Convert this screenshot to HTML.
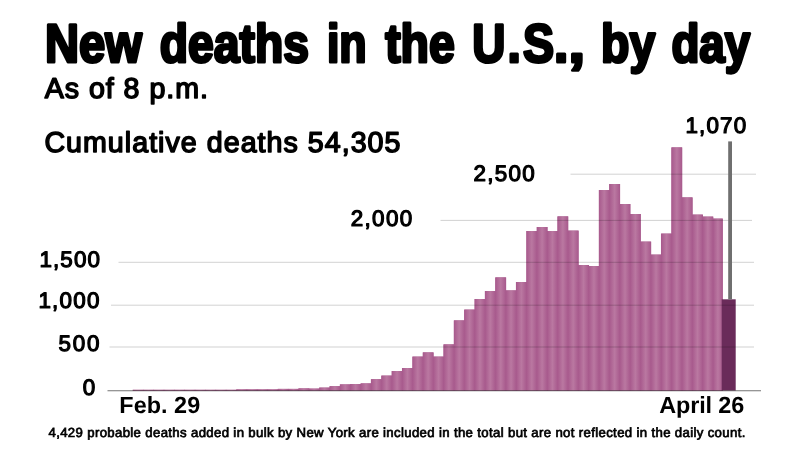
<!DOCTYPE html>
<html><head><meta charset="utf-8"><title>New deaths in the U.S., by day</title>
<style>
html,body{margin:0;padding:0;background:#fff;}
body{width:800px;height:450px;overflow:hidden;}
svg{display:block;}
text{font-family:"Liberation Sans",sans-serif;fill:#000;text-rendering:geometricPrecision;}
.t{font-weight:bold;font-size:54px;stroke:#000;stroke-width:3px;stroke-linejoin:round;}
.m{stroke:#000;stroke-width:1.5px;stroke-linejoin:round;}
.a{stroke:#000;stroke-width:1.2px;stroke-linejoin:round;}
.b{font-weight:bold;}
.f{stroke:#000;stroke-width:0.7px;}
</style></head><body>
<svg width="800" height="450" viewBox="0 0 800 450">
<defs><linearGradient id="g" x1="0" y1="0" x2="1" y2="0">
<stop offset="0" stop-color="#a85a8d"/><stop offset="0.5" stop-color="#ba78a1"/><stop offset="1" stop-color="#a85a8d"/>
</linearGradient></defs>
<rect width="800" height="450" fill="#fff"/>
<g>
<g fill="#a85a8d"><rect x="132.60" y="389.8" width="10.96" height="0.8"/>
<rect x="142.96" y="389.8" width="10.96" height="0.8"/>
<rect x="153.32" y="389.8" width="10.96" height="0.8"/>
<rect x="163.68" y="389.8" width="10.96" height="0.8"/>
<rect x="174.04" y="389.8" width="10.96" height="0.8"/>
<rect x="184.40" y="389.8" width="10.96" height="0.8"/>
<rect x="194.76" y="389.8" width="10.96" height="0.8"/>
<rect x="205.12" y="389.8" width="10.96" height="0.8"/>
<rect x="215.48" y="389.8" width="10.96" height="0.8"/>
<rect x="225.84" y="389.8" width="10.96" height="0.8"/>
<rect x="236.20" y="389.4" width="10.96" height="1.2"/>
<rect x="246.56" y="389.4" width="10.96" height="1.2"/>
<rect x="256.92" y="389.4" width="10.96" height="1.2"/>
<rect x="267.28" y="389.4" width="10.96" height="1.2"/>
<rect x="277.64" y="388.9" width="10.96" height="1.7"/>
<rect x="288.00" y="388.9" width="10.96" height="1.7"/>
<rect x="298.36" y="388.4" width="10.96" height="2.2"/>
<rect x="308.72" y="388.6" width="10.96" height="2.0"/>
<rect x="319.08" y="387.6" width="10.96" height="3.0"/>
<rect x="329.44" y="386.2" width="10.96" height="4.4"/>
<rect x="339.80" y="384.4" width="10.96" height="6.2"/>
<rect x="350.16" y="384.0" width="10.96" height="6.6"/>
<rect x="360.52" y="383.4" width="10.96" height="7.2"/>
<rect x="370.88" y="379.2" width="10.96" height="11.4"/>
<rect x="381.24" y="375.6" width="10.96" height="15.0"/>
<rect x="391.60" y="371.0" width="10.96" height="19.6"/>
<rect x="401.96" y="368.0" width="10.96" height="22.6"/>
<rect x="412.32" y="356.6" width="10.96" height="34.0"/>
<rect x="422.68" y="352.4" width="10.96" height="38.2"/>
<rect x="433.04" y="356.6" width="10.96" height="34.0"/>
<rect x="443.40" y="344.4" width="10.96" height="46.2"/>
<rect x="453.76" y="320.4" width="10.96" height="70.2"/>
<rect x="464.12" y="309.6" width="10.96" height="81.0"/>
<rect x="474.48" y="299.0" width="10.96" height="91.6"/>
<rect x="484.84" y="291.0" width="10.96" height="99.6"/>
<rect x="495.20" y="277.4" width="10.96" height="113.2"/>
<rect x="505.56" y="290.4" width="10.96" height="100.2"/>
<rect x="515.92" y="282.0" width="10.96" height="108.6"/>
<rect x="526.28" y="231.0" width="10.96" height="159.6"/>
<rect x="536.64" y="227.0" width="10.96" height="163.6"/>
<rect x="547.00" y="231.0" width="10.96" height="159.6"/>
<rect x="557.36" y="216.4" width="10.96" height="174.2"/>
<rect x="567.72" y="230.6" width="10.96" height="160.0"/>
<rect x="578.08" y="265.0" width="10.96" height="125.6"/>
<rect x="588.44" y="266.0" width="10.96" height="124.6"/>
<rect x="598.80" y="190.0" width="10.96" height="200.6"/>
<rect x="609.16" y="184.0" width="10.96" height="206.6"/>
<rect x="619.52" y="204.0" width="10.96" height="186.6"/>
<rect x="629.88" y="214.0" width="10.96" height="176.6"/>
<rect x="640.24" y="241.6" width="10.96" height="149.0"/>
<rect x="650.60" y="254.6" width="10.96" height="136.0"/>
<rect x="660.96" y="233.6" width="10.96" height="157.0"/>
<rect x="671.32" y="147.4" width="10.96" height="243.2"/>
<rect x="681.68" y="197.4" width="10.96" height="193.2"/>
<rect x="692.04" y="214.6" width="10.96" height="176.0"/>
<rect x="702.40" y="216.6" width="10.96" height="174.0"/>
<rect x="712.76" y="218.6" width="9.96" height="172.0"/></g>
<rect x="132.90" y="389.8" width="10.36" height="0.8" fill="url(#g)"/>
<rect x="143.26" y="389.8" width="10.36" height="0.8" fill="url(#g)"/>
<rect x="153.62" y="389.8" width="10.36" height="0.8" fill="url(#g)"/>
<rect x="163.98" y="389.8" width="10.36" height="0.8" fill="url(#g)"/>
<rect x="174.34" y="389.8" width="10.36" height="0.8" fill="url(#g)"/>
<rect x="184.70" y="389.8" width="10.36" height="0.8" fill="url(#g)"/>
<rect x="195.06" y="389.8" width="10.36" height="0.8" fill="url(#g)"/>
<rect x="205.42" y="389.8" width="10.36" height="0.8" fill="url(#g)"/>
<rect x="215.78" y="389.8" width="10.36" height="0.8" fill="url(#g)"/>
<rect x="226.14" y="389.8" width="10.36" height="0.8" fill="url(#g)"/>
<rect x="236.50" y="389.4" width="10.36" height="1.2" fill="url(#g)"/>
<rect x="246.86" y="389.4" width="10.36" height="1.2" fill="url(#g)"/>
<rect x="257.22" y="389.4" width="10.36" height="1.2" fill="url(#g)"/>
<rect x="267.58" y="389.4" width="10.36" height="1.2" fill="url(#g)"/>
<rect x="277.94" y="388.9" width="10.36" height="1.7" fill="url(#g)"/>
<rect x="288.30" y="388.9" width="10.36" height="1.7" fill="url(#g)"/>
<rect x="298.66" y="388.4" width="10.36" height="2.2" fill="url(#g)"/>
<rect x="309.02" y="388.6" width="10.36" height="2.0" fill="url(#g)"/>
<rect x="319.38" y="387.6" width="10.36" height="3.0" fill="url(#g)"/>
<rect x="329.74" y="386.2" width="10.36" height="4.4" fill="url(#g)"/>
<rect x="340.10" y="384.4" width="10.36" height="6.2" fill="url(#g)"/>
<rect x="350.46" y="384.0" width="10.36" height="6.6" fill="url(#g)"/>
<rect x="360.82" y="383.4" width="10.36" height="7.2" fill="url(#g)"/>
<rect x="371.18" y="379.2" width="10.36" height="11.4" fill="url(#g)"/>
<rect x="381.54" y="375.6" width="10.36" height="15.0" fill="url(#g)"/>
<rect x="391.90" y="371.0" width="10.36" height="19.6" fill="url(#g)"/>
<rect x="402.26" y="368.0" width="10.36" height="22.6" fill="url(#g)"/>
<rect x="412.62" y="356.6" width="10.36" height="34.0" fill="url(#g)"/>
<rect x="422.98" y="352.4" width="10.36" height="38.2" fill="url(#g)"/>
<rect x="433.34" y="356.6" width="10.36" height="34.0" fill="url(#g)"/>
<rect x="443.70" y="344.4" width="10.36" height="46.2" fill="url(#g)"/>
<rect x="454.06" y="320.4" width="10.36" height="70.2" fill="url(#g)"/>
<rect x="464.42" y="309.6" width="10.36" height="81.0" fill="url(#g)"/>
<rect x="474.78" y="299.0" width="10.36" height="91.6" fill="url(#g)"/>
<rect x="485.14" y="291.0" width="10.36" height="99.6" fill="url(#g)"/>
<rect x="495.50" y="277.4" width="10.36" height="113.2" fill="url(#g)"/>
<rect x="505.86" y="290.4" width="10.36" height="100.2" fill="url(#g)"/>
<rect x="516.22" y="282.0" width="10.36" height="108.6" fill="url(#g)"/>
<rect x="526.58" y="231.0" width="10.36" height="159.6" fill="url(#g)"/>
<rect x="536.94" y="227.0" width="10.36" height="163.6" fill="url(#g)"/>
<rect x="547.30" y="231.0" width="10.36" height="159.6" fill="url(#g)"/>
<rect x="557.66" y="216.4" width="10.36" height="174.2" fill="url(#g)"/>
<rect x="568.02" y="230.6" width="10.36" height="160.0" fill="url(#g)"/>
<rect x="578.38" y="265.0" width="10.36" height="125.6" fill="url(#g)"/>
<rect x="588.74" y="266.0" width="10.36" height="124.6" fill="url(#g)"/>
<rect x="599.10" y="190.0" width="10.36" height="200.6" fill="url(#g)"/>
<rect x="609.46" y="184.0" width="10.36" height="206.6" fill="url(#g)"/>
<rect x="619.82" y="204.0" width="10.36" height="186.6" fill="url(#g)"/>
<rect x="630.18" y="214.0" width="10.36" height="176.6" fill="url(#g)"/>
<rect x="640.54" y="241.6" width="10.36" height="149.0" fill="url(#g)"/>
<rect x="650.90" y="254.6" width="10.36" height="136.0" fill="url(#g)"/>
<rect x="661.26" y="233.6" width="10.36" height="157.0" fill="url(#g)"/>
<rect x="671.62" y="147.4" width="10.36" height="243.2" fill="url(#g)"/>
<rect x="681.98" y="197.4" width="10.36" height="193.2" fill="url(#g)"/>
<rect x="692.34" y="214.6" width="10.36" height="176.0" fill="url(#g)"/>
<rect x="702.70" y="216.6" width="10.36" height="174.0" fill="url(#g)"/>
<rect x="713.06" y="218.6" width="9.66" height="172.0" fill="url(#g)"/>
<rect x="721.7" y="299.3" width="14" height="91.2" fill="#6a2b5a"/>
</g>
<g stroke="#000" stroke-opacity="0.18" stroke-width="1">
<line x1="570.5" y1="174.2" x2="756" y2="174.2"/>
<line x1="440.5" y1="220.4" x2="752" y2="220.4"/>
<line x1="118.5" y1="262.3" x2="754" y2="262.3"/>
<line x1="111" y1="305.2" x2="754" y2="305.2"/>
<line x1="109.5" y1="347" x2="754" y2="347"/>
</g>
<line x1="107.5" y1="390.7" x2="761" y2="390.7" stroke="#000" stroke-opacity="0.55" stroke-width="1.1"/>
<rect x="728.2" y="141.4" width="3.8" height="158" fill="#6f6f6f"/>
<g class="t">
<text x="44.88" y="61.6" textLength="96.95" lengthAdjust="spacingAndGlyphs">New</text>
<text x="159.84" y="61.6" textLength="149.25" lengthAdjust="spacingAndGlyphs">deaths</text>
<text x="326.91" y="61.6" textLength="39.73" lengthAdjust="spacingAndGlyphs">in</text>
<text x="385.15" y="61.6" textLength="69.70" lengthAdjust="spacingAndGlyphs">the</text>
<text y="61.6"><tspan x="472.23" textLength="33.18" lengthAdjust="spacingAndGlyphs">U</tspan><tspan x="507.59" textLength="13.33" lengthAdjust="spacingAndGlyphs">.</tspan><tspan x="522.92" textLength="31.09" lengthAdjust="spacingAndGlyphs">S</tspan><tspan x="553.9" textLength="14.33" lengthAdjust="spacingAndGlyphs">.</tspan><tspan x="568.54" textLength="16.55" lengthAdjust="spacingAndGlyphs">,</tspan></text>
<text x="601.03" y="61.6" textLength="54.22" lengthAdjust="spacingAndGlyphs">by</text>
<text x="671.39" y="61.6" textLength="78.89" lengthAdjust="spacingAndGlyphs">day</text>
</g>
<g class="m" font-size="28.6">
<text x="44.69" y="97.9" textLength="163.22" lengthAdjust="spacing">As of 8 p.m.</text>
<text x="44.39" y="152" textLength="356.05" lengthAdjust="spacing">Cumulative deaths 54,305</text>
</g>
<g class="a" font-size="22.4">
<text x="39.38" y="266.5" textLength="60.52" lengthAdjust="spacing">1,500</text>
<text x="38.41" y="307.5" textLength="61.09" lengthAdjust="spacing">1,000</text>
<text x="58.42" y="350.5" textLength="41.09" lengthAdjust="spacing">500</text>
<text x="82.87" y="395.1">0</text>
<text x="350.68" y="226.3" textLength="61.46" lengthAdjust="spacing">2,000</text>
<text x="473.42" y="181.3" textLength="61.34" lengthAdjust="spacing">2,500</text>
<text x="685.38" y="132.8" textLength="60.75" lengthAdjust="spacing">1,070</text>
</g>
<g class="b" font-size="23.4">
<text x="119.33" y="412.6" textLength="80.86" lengthAdjust="spacing">Feb. 29</text>
<text x="659.18" y="412.8" textLength="85.02" lengthAdjust="spacing">April 26</text>
</g>
<g class="f" font-size="13.2">
<text x="48.48" y="436.8" textLength="696.83" lengthAdjust="spacing">4,429 probable deaths added in bulk by New York are included in the total but are not reflected in the daily count.</text>
</g>
</svg>
</body></html>
